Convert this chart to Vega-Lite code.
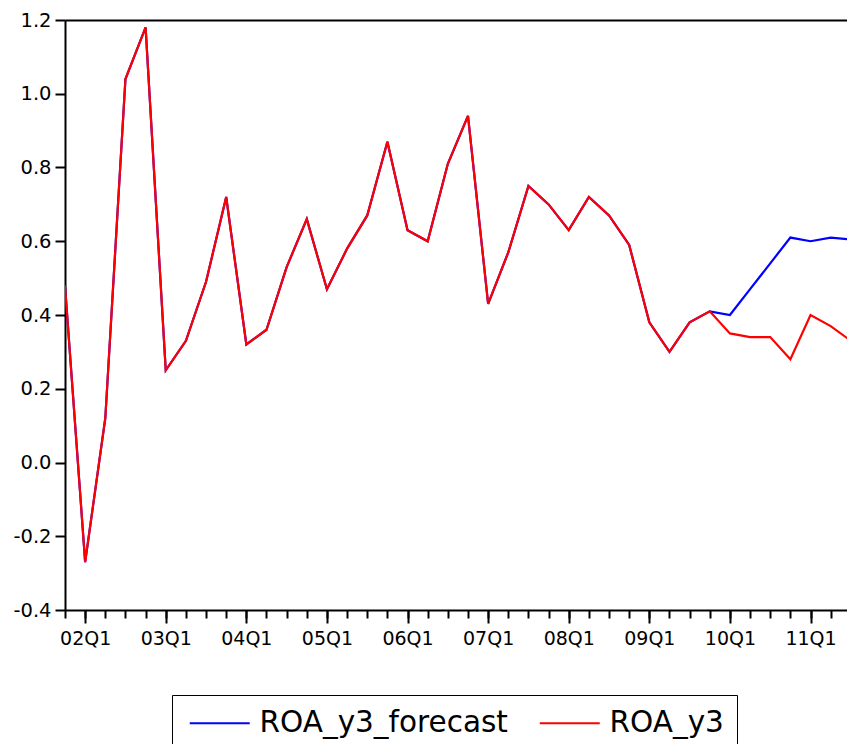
{
  "$schema": "https://vega.github.io/schema/vega-lite/v6.json",
  "width": 782,
  "height": 590,
  "autosize": {"type": "none"},
  "padding": {"left": 65, "top": 20, "right": 0, "bottom": 134},
  "background": "white",
  "config": {
    "view": {"stroke": null},
    "font": "DejaVu Sans",
    "axis": {"grid": false, "domainColor": "black", "tickColor": "black", "labelColor": "black", "labelFont": "DejaVu Sans", "labelFontSize": 19, "title": null},
    "legend": {"strokeWidth": 1}
  },
  "data": {
    "values": [
      {"q": 0, "period": "01Q4", "ROA_y3_forecast": 0.48, "ROA_y3": 0.48},
      {"q": 1, "period": "02Q1", "ROA_y3_forecast": -0.27, "ROA_y3": -0.27},
      {"q": 2, "period": "02Q2", "ROA_y3_forecast": 0.12, "ROA_y3": 0.12},
      {"q": 3, "period": "02Q3", "ROA_y3_forecast": 1.04, "ROA_y3": 1.04},
      {"q": 4, "period": "02Q4", "ROA_y3_forecast": 1.18, "ROA_y3": 1.18},
      {"q": 5, "period": "03Q1", "ROA_y3_forecast": 0.25, "ROA_y3": 0.25},
      {"q": 6, "period": "03Q2", "ROA_y3_forecast": 0.33, "ROA_y3": 0.33},
      {"q": 7, "period": "03Q3", "ROA_y3_forecast": 0.49, "ROA_y3": 0.49},
      {"q": 8, "period": "03Q4", "ROA_y3_forecast": 0.72, "ROA_y3": 0.72},
      {"q": 9, "period": "04Q1", "ROA_y3_forecast": 0.32, "ROA_y3": 0.32},
      {"q": 10, "period": "04Q2", "ROA_y3_forecast": 0.36, "ROA_y3": 0.36},
      {"q": 11, "period": "04Q3", "ROA_y3_forecast": 0.53, "ROA_y3": 0.53},
      {"q": 12, "period": "04Q4", "ROA_y3_forecast": 0.66, "ROA_y3": 0.66},
      {"q": 13, "period": "05Q1", "ROA_y3_forecast": 0.47, "ROA_y3": 0.47},
      {"q": 14, "period": "05Q2", "ROA_y3_forecast": 0.58, "ROA_y3": 0.58},
      {"q": 15, "period": "05Q3", "ROA_y3_forecast": 0.67, "ROA_y3": 0.67},
      {"q": 16, "period": "05Q4", "ROA_y3_forecast": 0.87, "ROA_y3": 0.87},
      {"q": 17, "period": "06Q1", "ROA_y3_forecast": 0.63, "ROA_y3": 0.63},
      {"q": 18, "period": "06Q2", "ROA_y3_forecast": 0.60, "ROA_y3": 0.60},
      {"q": 19, "period": "06Q3", "ROA_y3_forecast": 0.81, "ROA_y3": 0.81},
      {"q": 20, "period": "06Q4", "ROA_y3_forecast": 0.94, "ROA_y3": 0.94},
      {"q": 21, "period": "07Q1", "ROA_y3_forecast": 0.43, "ROA_y3": 0.43},
      {"q": 22, "period": "07Q2", "ROA_y3_forecast": 0.57, "ROA_y3": 0.57},
      {"q": 23, "period": "07Q3", "ROA_y3_forecast": 0.75, "ROA_y3": 0.75},
      {"q": 24, "period": "07Q4", "ROA_y3_forecast": 0.70, "ROA_y3": 0.70},
      {"q": 25, "period": "08Q1", "ROA_y3_forecast": 0.63, "ROA_y3": 0.63},
      {"q": 26, "period": "08Q2", "ROA_y3_forecast": 0.72, "ROA_y3": 0.72},
      {"q": 27, "period": "08Q3", "ROA_y3_forecast": 0.67, "ROA_y3": 0.67},
      {"q": 28, "period": "08Q4", "ROA_y3_forecast": 0.59, "ROA_y3": 0.59},
      {"q": 29, "period": "09Q1", "ROA_y3_forecast": 0.38, "ROA_y3": 0.38},
      {"q": 30, "period": "09Q2", "ROA_y3_forecast": 0.30, "ROA_y3": 0.30},
      {"q": 31, "period": "09Q3", "ROA_y3_forecast": 0.38, "ROA_y3": 0.38},
      {"q": 32, "period": "09Q4", "ROA_y3_forecast": 0.41, "ROA_y3": 0.41},
      {"q": 33, "period": "10Q1", "ROA_y3_forecast": 0.40, "ROA_y3": 0.35},
      {"q": 34, "period": "10Q2", "ROA_y3_forecast": 0.47, "ROA_y3": 0.34},
      {"q": 35, "period": "10Q3", "ROA_y3_forecast": 0.54, "ROA_y3": 0.34},
      {"q": 36, "period": "10Q4", "ROA_y3_forecast": 0.61, "ROA_y3": 0.28},
      {"q": 37, "period": "11Q1", "ROA_y3_forecast": 0.60, "ROA_y3": 0.40},
      {"q": 38, "period": "11Q2", "ROA_y3_forecast": 0.61, "ROA_y3": 0.37},
      {"q": 39, "period": "11Q3", "ROA_y3_forecast": 0.605, "ROA_y3": 0.33}
    ]
  },
  "transform": [{"fold": ["ROA_y3_forecast", "ROA_y3"], "as": ["series", "value"]}],
  "encoding": {
    "y": {
      "field": "value",
      "type": "quantitative",
      "scale": {"domain": [-0.4, 1.2], "nice": false, "zero": false},
      "axis": {
        "values": [-0.4, -0.2, 0, 0.2, 0.4, 0.6, 0.8, 1.0, 1.2],
        "labelExpr": "replace(format(datum.value, '.1f'), '\u2212', '-')",
        "labelFontSize": 19.5,
        "tickSize": 10,
        "tickWidth": 2,
        "domainWidth": 2,
        "labelPadding": 4
      }
    }
  },
  "layer": [
    {
      "transform": [{"filter": "datum.series === 'ROA_y3_forecast'"}],
      "mark": {"type": "line", "clip": true, "strokeWidth": 2.2},
      "encoding": {
        "x": {
          "field": "q",
          "type": "quantitative",
          "scale": {"domain": [0, 38.81], "nice": false, "zero": false},
          "axis": {
            "orient": "bottom",
            "values": [0,1,2,3,4,5,6,7,8,9,10,11,12,13,14,15,16,17,18,19,20,21,22,23,24,25,26,27,28,29,30,31,32,33,34,35,36,37,38],
            "labels": false,
            "tickSize": 8,
            "tickWidth": 2,
            "domainWidth": 2
          }
        },
        "color": {
          "field": "series",
          "type": "nominal",
          "scale": {"domain": ["ROA_y3_forecast", "ROA_y3"], "range": ["#0000ff", "#ff0000"]},
          "legend": {
            "title": null,
            "orient": "none",
            "legendX": 107,
            "legendY": 675,
            "direction": "horizontal",
            "columns": 2,
            "symbolType": "M-1,0H5",
            "symbolSize": 400,
            "symbolStrokeWidth": 2,
            "labelFontSize": 29.5,
            "labelFont": "DejaVu Sans",
            "labelColor": "black",
            "labelOffset": 45,
            "labelLimit": 0,
            "columnPadding": 27,
            "padding": 13,
            "strokeColor": "black",
            "fillColor": "white"
          }
        }
      }
    },
    {
      "transform": [{"filter": "datum.series === 'ROA_y3'"}],
      "mark": {"type": "line", "clip": true, "strokeWidth": 2.2},
      "encoding": {
        "x": {
          "field": "q",
          "type": "quantitative",
          "scale": {"domain": [0, 38.81], "nice": false, "zero": false},
          "axis": {
            "orient": "bottom",
            "values": [1, 5, 9, 13, 17, 21, 25, 29, 33, 37],
            "labelExpr": "(datum.value < 33 ? '0' : '') + (2 + (datum.value - 1) / 4) + 'Q1'",
            "tickSize": 13,
            "tickWidth": 2,
            "domain": false,
            "labelPadding": 6,
            "labelFlush": false,
            "labelOverlap": false
          }
        },
        "color": {"field": "series", "type": "nominal"}
      }
    },
    {
      "mark": {"type": "point", "opacity": 0, "clip": true},
      "encoding": {
        "x": {
          "field": "q",
          "type": "quantitative",
          "scale": {"domain": [0, 38.81], "nice": false, "zero": false},
          "axis": {"orient": "top", "labels": false, "ticks": false, "domain": true, "domainWidth": 2}
        }
      }
    }
  ],
  "resolve": {"axis": {"x": "independent"}}
}
